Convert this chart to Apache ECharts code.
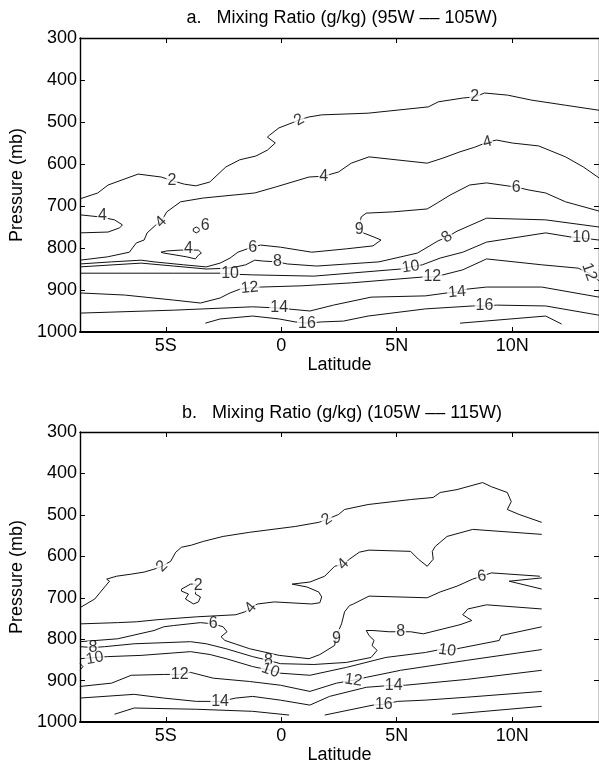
<!DOCTYPE html>
<html><head><meta charset="utf-8">
<script src="https://cdn.jsdelivr.net/npm/echarts@6/dist/echarts.min.js"></script>
<style>html,body{margin:0;padding:0;background:#fff}#c{width:599px;height:765px}</style>
</head><body><div id="c"></div>
<script>
// ---- axis ticks ----
const xTicks = [-5, 0, 5, 10];
const xTickLabels = ['5S', '0', '5N', '10N'];
const latMin = -8.72, latMax = 13.76;
const pMin = 300, pMax = 1000;

// ---- panel a contours [latitude, pressure] ----
const a2 = [[-8.72,683],[-7.95,669],[-7.5,650],[-6.9,638],[-6.2,624],[-5.2,631],[-4.7,640],[-4.2,648],[-3.7,652],[-3.1,643],[-2.4,607],[-1.8,590],[-1.1,581],[-0.6,567],[-0.26,550],[-0.6,536],[-0.5,531],[-0.1,514],[0.47,502],[0.77,495],[1.2,488],[1.75,483],[3.76,479],[6.37,464],[6.8,452],[7.86,443],[8.4,440],[8.8,431],[9.8,436],[10.85,448],[12.3,460],[13.76,472]];
const a4 = [[-8.72,829],[-7.52,821],[-6.58,810],[-6.28,788],[-5.94,781],[-5.81,764],[-5.43,745],[-5.21,738],[-4.96,714],[-4.36,690],[-3.38,681],[-1.15,669],[-0.26,655],[1.2,631],[1.84,629],[2.48,619],[3.03,598],[3.8,583],[6.32,598],[7.0,586],[7.74,571],[8.38,560],[8.93,548],[9.32,543],[10.0,550],[11.15,557],[12.31,583],[13.08,607],[13.76,633]];
const a4West = [[-8.72,721],[-7.86,726],[-7.22,733],[-6.88,745],[-7.0,752],[-7.5,762],[-8.72,764]];
const a4Loop = [[-5.21,810],[-4.96,807],[-4.36,805],[-3.59,805],[-3.46,812],[-3.59,817],[-3.72,826],[-4.1,821],[-5.09,812],[-5.21,810]];
const a6Loop = [[-3.68,750],[-3.55,754],[-3.55,760],[-3.68,764],[-3.81,760],[-3.81,754],[-3.68,750]];
const a6 = [[-8.72,838],[-7.35,833],[-6.07,829],[-5.51,833],[-4.23,840],[-3.25,845],[-2.65,836],[-2.22,824],[-1.88,810],[-1.37,800],[-0.9,793],[-0.04,798],[1.32,810],[2.82,802],[3.97,795],[4.32,781],[4.02,774],[3.55,764],[3.38,748],[3.46,726],[3.68,717],[4.83,714],[6.32,707],[6.75,693],[7.31,674],[8.16,650],[8.89,645],[10.17,655],[10.73,662],[11.45,669],[12.31,690],[13.76,712]];
const a8 = [[-8.72,845],[-6.07,836],[-4.66,843],[-3.25,850],[-2.22,848],[-1.54,840],[-1.15,829],[-0.81,831],[-0.17,833],[0.26,838],[1.54,843],[4.23,833],[5.9,812],[6.79,783],[7.18,774],[7.61,760],[8.89,729],[11.45,733],[13.76,750]];
const a10 = [[-8.72,860],[-4.66,860],[-2.65,860],[-2.22,862],[-1.24,864],[1.41,867],[5.17,850],[5.6,845],[6.11,840],[6.88,824],[7.86,810],[8.89,786],[11.45,764],[12.56,774],[12.99,776],[13.76,781]];
const a12 = [[-8.72,907],[-6.79,912],[-4.66,924],[-3.5,931],[-2.65,919],[-2.22,907],[-1.79,898],[-1.37,895],[-0.9,893],[0.9,890],[3.03,883],[6.15,869],[6.54,869],[7.0,864],[7.86,852],[8.89,826],[11.28,840],[12.86,848],[13.33,860],[13.76,878]];
const a14 = [[-8.72,955],[-4.66,948],[-1.24,940],[-0.09,943],[0.26,945],[1.24,950],[2.26,936],[3.89,917],[6.24,914],[7.18,907],[7.61,905],[8.03,898],[8.89,893],[11.28,893],[13.76,917]];
const a16 = [[-3.29,979],[-2.65,969],[-1.24,962],[-0.09,969],[0.6,976],[1.11,979],[1.75,976],[2.69,974],[3.76,962],[6.24,945],[8.29,938],[8.8,938],[9.32,936],[11.45,938],[13.76,960]];
const a16East = [[7.74,979],[11.45,962],[12.14,981]];
// contour labels [latitude, pressure, text, rotation]
const aLabels = [
  [-4.74,640,'2',0],[0.77,495,'2',30],[8.38,440,'2',0],
  [-7.74,724,'4',0],[-5.21,738,'4',45],[1.84,629,'4',0],[8.93,548,'4',15],[-4.02,802,'4',0],
  [-3.3,746,'6',0],[-1.24,800,'6',0],[3.38,748,'6',180],[10.17,655,'6',0],
  [-0.17,833,'8',0],[7.18,774,'8',40],
  [-2.22,862,'10',0],[5.6,845,'10',8],[12.99,776,'10',0],
  [-1.37,895,'12',5],[6.54,869,'12',0],[13.33,857,'12',-70],
  [-0.09,943,'14',0],[7.61,905,'14',5],
  [1.11,979,'16',0],[8.8,938,'16',0]
];

// ---- panel b contours ----
const b2 = [[-8.72,724],[-8.08,703],[-7.65,674],[-7.44,660],[-7.56,655],[-7.14,648],[-6.5,643],[-5.94,638],[-5.51,631],[-5.17,624],[-4.79,612],[-4.57,590],[-4.32,578],[-3.89,573],[-3.38,564],[-2.52,552],[-1.37,542],[0.6,528],[1.62,518],[1.97,511],[2.48,499],[2.74,487],[3.76,475],[5.6,463],[6.58,458],[6.88,446],[7.61,439],[8.72,422],[9.1,432],[9.79,446],[9.96,468],[9.79,487],[10.3,499],[11.28,518]];
const b2Loop = [[-4.32,679],[-3.93,667],[-3.68,667],[-3.72,691],[-3.5,698],[-3.59,710],[-3.8,715],[-4.15,703],[-4.02,691],[-4.32,684],[-4.32,679]];
const b4 = [[-8.72,763],[-7.09,760],[-6.28,758],[-5.38,753],[-3.68,746],[-1.97,741],[-1.58,734],[-1.32,724],[-1.03,715],[-0.3,710],[1.32,715],[1.67,712],[1.75,698],[1.62,686],[1.11,674],[0.47,667],[1.24,662],[1.88,648],[2.31,624],[2.69,619],[2.95,607],[3.38,590],[3.8,585],[5.6,588],[5.94,607],[6.32,624],[6.58,607],[6.54,588],[6.67,576],[7.18,552],[8.29,535],[11.28,547]];
const b6 = [[-8.72,806],[-7.09,799],[-5.51,779],[-5.09,770],[-4.66,767],[-3.5,760],[-2.95,763],[-2.52,770],[-2.35,782],[-2.61,794],[-2.44,803],[-1.37,823],[-0.09,839],[1.2,847],[1.67,837],[2.31,815],[2.39,791],[2.61,763],[2.74,734],[2.95,719],[3.12,715],[3.55,703],[3.8,696],[6.32,700],[6.88,686],[7.61,672],[8.29,655],[8.68,648],[9.1,640],[11.2,648]];
const b6East = [[11.28,652],[9.87,660],[11.28,679]];
const b8 = [[-8.72,818],[-8.16,820],[-7.65,818],[-6.37,811],[-3.93,806],[-3.25,811],[-2.39,823],[-1.24,842],[-0.56,851],[-0.04,859],[1.41,861],[2.82,856],[3.89,844],[4.15,827],[3.93,815],[4.02,803],[3.8,791],[3.68,779],[3.97,779],[4.66,782],[5.17,782],[5.6,782],[6.15,787],[7.74,765],[8.25,755],[7.86,741],[8.08,727],[8.89,717],[11.28,727]];
const b10 = [[-8.72,847],[-8.08,844],[-7.52,842],[-6.07,839],[-3.93,830],[-3.08,837],[-2.39,847],[-1.24,866],[-0.47,875],[-0.04,882],[1.24,887],[2.82,868],[4.53,844],[6.24,832],[6.88,825],[7.18,827],[7.61,823],[9.44,803],[9.53,791],[11.28,770]];
const b10Edge = [[-8.72,858],[-8.59,866],[-8.72,875]];
const b12 = [[-8.72,914],[-7.35,906],[-6.5,887],[-5.09,885],[-4.4,885],[-3.93,880],[-2.95,894],[-1.37,902],[-0.04,911],[1.24,926],[2.39,906],[3.12,899],[3.68,892],[5.17,875],[8.03,851],[11.28,825]];
const b14 = [[-8.72,942],[-6.37,933],[-5.09,942],[-3.68,950],[-2.65,950],[-1.97,942],[-1.24,938],[-0.04,947],[1.24,959],[2.09,938],[3.68,916],[4.87,911],[5.38,911],[8.03,897],[11.28,875]];
const b16West = [[-7.22,981],[-6.37,966],[-3.68,969],[-1.24,974],[0.34,983]];
const b16 = [[1.88,983],[3.97,959],[4.44,957],[5.04,950],[6.24,947],[8.03,940],[11.28,926]];
const b16East = [[7.39,981],[11.28,962]];
const bLabels = [
  [-5.17,624,'2',45],[1.97,511,'2',35],[-3.6,671,'2',0],
  [-1.32,724,'4',50],[2.69,619,'4',45],
  [-2.95,763,'6',0],[2.39,791,'6',180],[8.68,648,'6',8],
  [-8.16,820,'8',0],[-0.56,851,'8',0],[5.17,782,'8',0],
  [-8.08,846,'10',10],[-0.47,875,'10',-20],[7.18,827,'10',-8],
  [-4.4,885,'12',0],[3.12,899,'12',-8],
  [-2.65,950,'14',0],[4.87,911,'14',0],
  [4.44,957,'16',0]
];

const panelA = [a2, a4, a4West, a4Loop, a6Loop, a6, a8, a10, a12, a14, a16, a16East];
const panelB = [b2, b2Loop, b4, b6, b6East, b8, b10, b10Edge, b12, b14, b16West, b16, b16East];
const titles = ['a.   Mixing Ratio (g/kg) (95W \u2013\u2013 105W)', 'b.   Mixing Ratio (g/kg) (105W \u2013\u2013 115W)'];

const FONT = '"Liberation Sans", Arial, Helvetica, sans-serif';
const gridTops = [38, 432];
const gridHeights = [294, 292];

const grid = [], xAxis = [], yAxis = [], series = [];
[panelA, panelB].forEach((lines, k) => {
  grid.push({left: 75, right: -2, top: gridTops[k], height: gridHeights[k], containLabel: false});
  const lineStyle = {color: '#000', width: 1.4};
  xAxis.push({
    type: 'value', gridIndex: k, min: latMin, max: latMax, position: 'bottom',
    axisLine: {show: true, onZero: false, lineStyle: {color: '#000', width: 1.8}},
    axisTick: {show: true, inside: true, length: 5, customValues: xTicks, lineStyle: {color: '#000'}},
    axisLabel: {customValues: xTicks, formatter: v => xTickLabels[xTicks.indexOf(v)], color: '#000', fontSize: 18, fontFamily: FONT, margin: 5},
    splitLine: {show: false},
    name: 'Latitude', nameLocation: 'middle', nameGap: 22,
    nameTextStyle: {color: '#000', fontSize: 18, fontFamily: FONT}
  });
  xAxis.push({
    type: 'value', gridIndex: k, min: latMin, max: latMax, position: 'top',
    axisLine: {show: true, onZero: false, lineStyle},
    axisTick: {show: true, inside: true, length: 5, customValues: xTicks, lineStyle: {color: '#000'}},
    axisLabel: {show: false}, splitLine: {show: false}
  });
  yAxis.push({
    type: 'value', gridIndex: k, min: pMin, max: pMax, interval: 100, inverse: true, position: 'left',
    axisLine: {show: true, onZero: false, lineStyle},
    axisTick: {show: true, inside: true, length: 5, lineStyle: {color: '#000'}},
    axisLabel: {color: '#000', fontSize: 18, fontFamily: FONT, margin: 3, formatter: v => String(v)},
    splitLine: {show: false},
    name: 'Pressure (mb)', nameLocation: 'middle', nameGap: 45, nameRotate: 90,
    nameTextStyle: {color: '#000', fontSize: 18, fontFamily: FONT}
  });
  yAxis.push({
    type: 'value', gridIndex: k, min: pMin, max: pMax, interval: 100, inverse: true, position: 'right',
    axisLine: {show: true, onZero: false, lineStyle},
    axisTick: {show: true, inside: true, length: 5, lineStyle: {color: '#000'}},
    axisLabel: {show: false}, splitLine: {show: false}
  });
  lines.forEach(d => series.push({
    type: 'line', xAxisIndex: 2 * k, yAxisIndex: 2 * k, data: d,
    symbol: 'none', showSymbol: false, smooth: false, silent: true, z: 2,
    lineStyle: {color: '#111', width: 1}
  }));
  const labs = k === 0 ? aLabels : bLabels;
  series.push({
    type: 'scatter', xAxisIndex: 2 * k, yAxisIndex: 2 * k, symbol: 'circle', symbolSize: 1, silent: true, z: 5,
    itemStyle: {color: 'rgba(0,0,0,0)'},
    data: labs.map(l => ({value: [l[0], l[1]], name: l[2], label: {rotate: l[3]}})),
    label: {show: true, position: 'inside', formatter: '{b}', color: '#000', fontSize: 16,
      fontFamily: FONT, backgroundColor: '#fff', padding: [0, 1], lineHeight: 13,
      align: 'center', verticalAlign: 'middle'},
    labelLayout: {hideOverlap: false}
  });
});

const chart = echarts.init(document.getElementById('c'), null, {renderer: 'canvas'});
chart.setOption({
  animation: false,
  backgroundColor: '#fff',
  grid, xAxis, yAxis, series,
  graphic: titles.map((t, k) => ({
    type: 'text', x: 342, y: [18, 413][k],
    style: {text: t, fill: '#000', font: '18px ' + FONT, textAlign: 'center', textVerticalAlign: 'middle'}
  }))
});
</script></body></html>
